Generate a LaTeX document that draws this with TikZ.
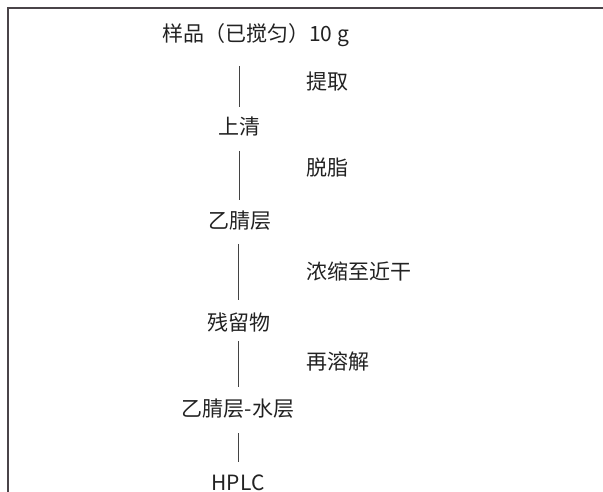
\documentclass[tikz,border=0pt]{standalone}
\usepackage{fontspec}
\setmainfont{Noto Sans CJK SC}
\usepackage{tikz}
\definecolor{framec}{HTML}{4A4448}
\definecolor{inkc}{HTML}{222222}
\tikzset{
  lbl/.style={inner sep=0pt, anchor=base, text=inkc, font=\fontsize{21}{24}\selectfont},
  steplbl/.style={lbl, anchor=base west},
  conn/.style={draw=inkc!85, line width=1.2pt},
  framel/.style={draw=framec, line width=1.3pt}
}
\begin{document}
\begin{tikzpicture}[x=1pt,y=-1pt]
\useasboundingbox (0,0) rectangle (603,492);
\draw[framel] (8,492) -- (8,8) -- (603,8);
\node[lbl] (s1) at (255.5,42) {样品（已搅匀）10 g};
\node[lbl] (s2) at (239.5,135) {上清};
\node[lbl] (s3) at (239.5,229) {乙腈层};
\node[lbl] (s4) at (238.5,330) {残留物};
\node[lbl] (s5) at (238,416) {乙腈层-水层};
\node[lbl] (s6) at (238,490) {HPLC};
\node[steplbl] (t1) at (306,90) {提取};
\node[steplbl] (t2) at (306,176) {脱脂};
\node[steplbl] (t3) at (306,279) {浓缩至近干};
\node[steplbl] (t4) at (306,369) {再溶解};
\draw[conn, shorten <=24pt, shorten >=28pt] (s2.base |- s1.base) -- (s2.base);
\draw[conn, shorten <=16pt, shorten >=29pt] (s2.base) -- (s2.base |- s3.base);
\draw[conn, shorten <=15pt, shorten >=30pt] (s4.base |- s3.base) -- (s4.base);
\draw[conn, shorten <=11pt, shorten >=29pt] (s4.base) -- (s4.base |- s5.base);
\draw[conn, shorten <=17pt, shorten >=28pt] (s4.base |- s5.base) -- (s4.base |- s6.base);
\end{tikzpicture}
\end{document}
